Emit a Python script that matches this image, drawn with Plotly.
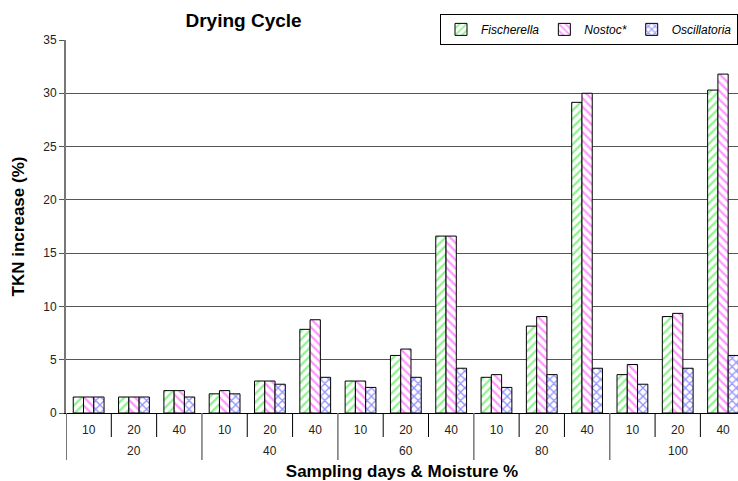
import plotly.graph_objects as go

# Sampling days (outer level) and moisture % (inner level)
days_groups = ["20", "40", "60", "80", "100"]
moisture_levels = ["10", "20", "40"]
days = [d for d in days_groups for _ in moisture_levels]
moisture = moisture_levels * len(days_groups)

fischerella = [1.5, 1.5, 2.1, 1.8, 3.0, 7.85, 3.0, 5.4, 16.6, 3.35, 8.15, 29.15, 3.6, 9.05, 30.3]
nostoc = [1.5, 1.5, 2.1, 2.1, 3.0, 8.75, 3.0, 6.0, 16.6, 3.6, 9.05, 30.0, 4.55, 9.35, 31.8]
oscillatoria = [1.5, 1.5, 1.5, 1.8, 2.7, 3.35, 2.4, 3.35, 4.2, 2.4, 3.6, 4.2, 2.7, 4.2, 5.4]

y_ticks = [0, 5, 10, 15, 20, 25, 30, 35]

# one category per (days, moisture) pair
cats = [f"{d}|{m}" for d, m in zip(days, moisture)]

series = [
    ("<i>Fischerella</i>", fischerella, "#1ee61e", "/"),
    ("<i>Nostoc*</i>", nostoc, "#ff2eff", "\\"),
    ("<i>Oscillatoria</i>", oscillatoria, "#2323ff", "x"),
]

fig = go.Figure()
for name, vals, col, shape in series:
    fig.add_trace(go.Bar(
        x=cats,
        y=vals,
        name=name,
        marker=dict(
            color="white",
            line=dict(color="black", width=1),
            pattern=dict(shape=shape, fgcolor=col, bgcolor="white",
                         size=6, solidity=0.38, fillmode="overlay"),
        ),
    ))

plot_h = 481 - 40 - 68  # plot height in px, for paper-unit offsets below the axis

# short ticks between moisture labels, long dividers between day groups
n = len(cats)
for i in range(n):
    b = i - 0.5
    if i % len(moisture_levels) == 0:
        fig.add_shape(type="line", xref="x", yref="paper", x0=b, x1=b,
                      y0=0, y1=-47 / plot_h,
                      line=dict(color="#777", width=2 if i == 0 else 1.5))
    else:
        fig.add_shape(type="line", xref="x", yref="paper", x0=b, x1=b,
                      y0=0, y1=-24 / plot_h, line=dict(color="black", width=1))

# day-group labels under the moisture labels
for g, d in enumerate(days_groups):
    mid = cats[g * len(moisture_levels) + len(moisture_levels) // 2]
    fig.add_annotation(x=mid, xref="x", y=0, yref="paper", yanchor="middle",
                       yshift=-38, text=d, showarrow=False,
                       font=dict(size=12, color="#222"))

fig.update_layout(
    width=738, height=481,
    margin=dict(l=66, r=0, t=40, b=68),
    paper_bgcolor="white", plot_bgcolor="white",
    barmode="group", bargap=0.32, bargroupgap=0,
    font=dict(family="Arial, Liberation Sans, sans-serif", size=12, color="#222"),
    title=dict(text="<b>Drying Cycle</b>", x=0.33, xanchor="center",
               y=0.958, yanchor="middle", font=dict(size=19, color="black")),
    legend=dict(orientation="h", x=1.0, xanchor="right", y=1.07, yanchor="top",
                bgcolor="white", bordercolor="black", borderwidth=1,
                font=dict(size=12, color="black"), itemwidth=30,
                tracegroupgap=0),
    showlegend=True,
)

fig.update_xaxes(
    type="category",
    range=[-0.5, 14.33],
    tickvals=cats, ticktext=moisture,
    showline=True, linecolor="black", linewidth=1,
    ticks="", ticklabelstandoff=6,
    tickfont=dict(size=12, color="#222"),
    title=dict(text="<b>Sampling days & Moisture %</b>", font=dict(size=17, color="black"),
               standoff=28),
    showgrid=False,
)

fig.update_yaxes(
    range=[0, 35], tickvals=y_ticks,
    showgrid=True, gridcolor="#555", gridwidth=1,
    showline=True, linecolor="#777", linewidth=2,
    ticks="outside", ticklen=5, tickcolor="#555",
    tickfont=dict(size=12, color="#222"),
    title=dict(text="<b>TKN increase (%)</b>", font=dict(size=17, color="black"),
               standoff=14),
    zeroline=False,
)

fig.write_html("out.html")
